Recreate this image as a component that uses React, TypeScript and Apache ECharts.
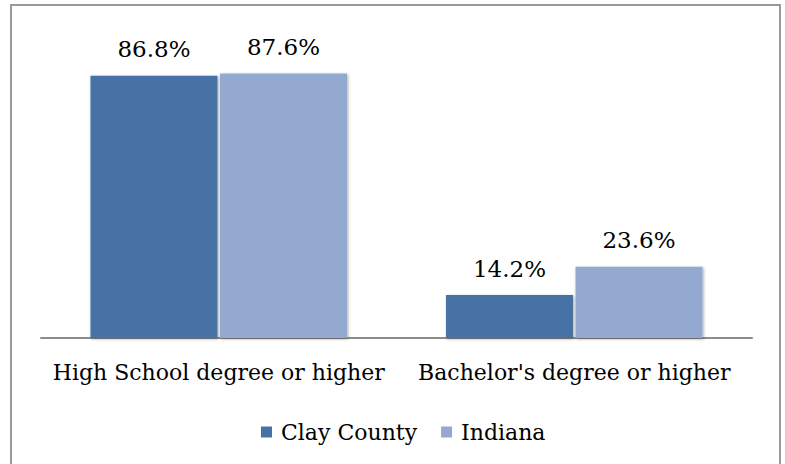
import React, { useEffect, useRef } from "react";
import * as echarts from "echarts";

const categories = ["High School degree or higher", "Bachelor's degree or higher"];
const clayCounty = [86.8, 14.2];
const indiana = [87.6, 23.6];
const seriesNames = ["Clay County", "Indiana"];

const FONT = "DejaVu Serif";

export default function App() {
  const ref = useRef<HTMLDivElement>(null);
  useEffect(() => {
    if (!ref.current) return;
    const chart = echarts.init(ref.current, undefined, { renderer: "svg" });
    const barStyle = (color: string) => ({
      color,
      shadowColor: "rgba(0,0,0,0.35)",
      shadowBlur: 3,
      shadowOffsetX: 1,
      shadowOffsetY: 1,
    });
    const label = {
      show: true,
      position: "top" as const,
      distance: 15,
      fontFamily: FONT,
      fontSize: 23,
      color: "#000",
      formatter: (p: any) => p.value.toFixed(1) + "%",
    };
    chart.setOption({
      animation: false,
      backgroundColor: "#fff",
      graphic: [
        {
          type: "rect",
          shape: { x: 11, y: 5, width: 769, height: 470 },
          style: { fill: "none", stroke: "#999", lineWidth: 2 },
          silent: true,
        },
      ],
      grid: { left: 41, right: 33, top: 36, bottom: 126, containLabel: false },
      legend: {
        data: seriesNames,
        top: 416,
        left: 256,
        itemWidth: 11,
        itemHeight: 11,
        itemGap: 24,
        icon: "rect",
        textStyle: { fontFamily: FONT, fontSize: 22, color: "#000", padding: [0, 0, 0, 4] },
      },
      xAxis: {
        type: "category",
        data: categories,
        axisLine: { lineStyle: { color: "#8c8c8c", width: 2 } },
        axisTick: { show: false },
        axisLabel: { fontFamily: FONT, fontSize: 22, color: "#000", margin: 23, interval: 0 },
      },
      yAxis: {
        type: "value",
        min: 0,
        max: 100,
        show: false,
        splitLine: { show: false },
      },
      series: [
        {
          name: seriesNames[0],
          type: "bar",
          data: clayCounty,
          barWidth: 127,
          barGap: "2%",
          itemStyle: barStyle("#4672a6"),
          label,
        },
        {
          name: seriesNames[1],
          type: "bar",
          data: indiana,
          barWidth: 127,
          itemStyle: barStyle("#94a9d0"),
          label,
        },
      ],
    });
    return () => chart.dispose();
  }, []);
  return (
    <div
      ref={ref}
      style={{ position: "fixed", left: 0, top: 0, width: 785, height: 464 }}
    />
  );
}
